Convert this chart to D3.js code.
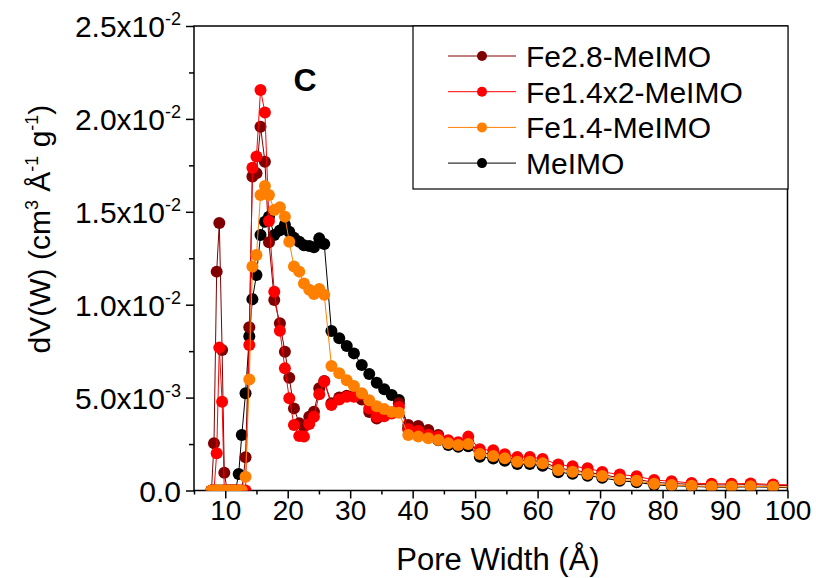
<!DOCTYPE html>
<html>
<head>
<meta charset="utf-8">
<script src="https://cdn.jsdelivr.net/npm/d3@7"></script>
<style>
body { margin: 0; background: #fff; }
text { font-family: "Liberation Sans", Arial, sans-serif; fill: #000; }
</style>
</head>
<body>
<svg id="chart" width="816" height="578"></svg>
<script>
// pore width grid (Å), shared by all four samples
const poreWidth = [7.8, 8.2, 8.63, 9.05, 9.5, 9.85, 10.3, 10.75, 11.2, 11.65,
  12.15, 12.65, 13.25, 13.85, 14.35, 15.0, 15.65, 16.35, 17.0, 17.85,
  18.75, 19.55, 20.25, 21.0, 21.85, 22.6, 23.45, 24.2, 25.05, 25.85,
  27.0, 28.25, 29.45, 30.6, 31.85, 33.05, 34.25, 35.45, 36.65, 37.8,
  39.3, 40.9, 42.5, 44.1, 45.7, 47.3, 48.9, 50.75, 52.9, 54.75,
  56.75, 58.75, 60.8, 63.3, 65.6, 68.0, 70.35, 73.15, 75.85, 78.65,
  81.45, 84.65, 87.85, 91.05, 94.1, 97.7, 101.0];

// dV(W), in units of 1e-3 cm3 Å-1 g-1
const fe28 = [0, 2.54, 11.78, 14.4, 7.56, 0.96, 0, 0, 0, 0,
  0, 0, 1.79, 8.78, 16.9, 17.07, 19.58, 17.7, 13.36, 10.25,
  9.0, 7.47, 6.07, 4.42, 3.62, 3.43, 3.97, 4.24, 5.5, 5.9,
  4.7, 5.0, 5.1, 5.1, 4.9, 4.23, 3.87, 4.1, 4.2, 4.7,
  3.53, 3.47, 3.26, 2.99, 2.62, 2.5, 2.6, 2.05, 1.95, 1.82,
  1.63, 1.63, 1.55, 1.2, 1.1, 0.98, 0.86, 0.68, 0.6, 0.44,
  0.38, 0.33, 0.3, 0.3, 0.32, 0.28, 0.26];

const fe14x2 = [0, 0, 2.0, 7.69, 4.78, 0, 0, 0, 0, 0,
  0, 0, 0, 7.83, 17.37, 17.97, 21.56, 20.35, 14.5, 10.7,
  8.6, 6.58, 4.96, 3.53, 2.93, 2.9, 3.58, 3.97, 5.18, 5.86,
  4.6, 4.9, 5.04, 5.04, 5.2, 4.42, 3.97, 4.0, 4.15, 4.5,
  3.3, 3.2, 3.0, 2.9, 2.7, 2.6, 2.9, 2.22, 2.16, 1.95,
  1.8, 1.8, 1.7, 1.4, 1.3, 1.2, 1.0, 0.86, 0.77, 0.56,
  0.5, 0.4, 0.36, 0.36, 0.38, 0.32, 0.3];

const fe14 = [0, 0, 0, 0, 0, 0, 0, 0, 0, 0,
  0, 0, 0.74, 5.98, 12.05, 12.67, 15.9, 16.39, 15.9, 15.1,
  15.24, 14.74, 13.39, 12.05, 11.78, 11.14, 10.8, 10.58, 10.85, 10.53,
  6.7, 6.31, 5.94, 5.63, 5.24, 4.86, 4.54, 4.38, 4.22, 4.18,
  2.99, 2.9, 2.81, 2.72, 2.54, 2.45, 2.5, 1.96, 1.86, 1.73,
  1.55, 1.55, 1.46, 1.1, 1.01, 0.89, 0.78, 0.6, 0.52, 0.36,
  0.3, 0.25, 0.21, 0.21, 0.23, 0.2, 0.18];

const meimo = [0, 0, 0, 0, 0, 0, 0, 0, 0, 0,
  0.89, 2.99, 5.23, 8.3, 10.3, 11.6, 13.75, 14.47, 14.74, 13.75,
  14.0, 14.3, 13.93, 13.6, 13.39, 13.2, 13.16, 13.09, 13.57, 13.27,
  8.58, 8.19, 7.78, 7.38, 6.75, 6.27, 5.8, 5.45, 5.14, 4.87,
  3.35, 3.1, 2.9, 2.7, 2.45, 2.35, 2.38, 1.82, 1.72, 1.6,
  1.42, 1.42, 1.33, 0.98, 0.9, 0.8, 0.68, 0.52, 0.45, 0.3,
  0.26, 0.22, 0.18, 0.18, 0.2, 0.17, 0.15];

const seriesNames = ["Fe2.8-MeIMO", "Fe1.4x2-MeIMO", "Fe1.4-MeIMO", "MeIMO"];
const seriesColors = ["#800000", "#ff0000", "#ff8000", "#000000"];

const xTicks = [10, 20, 30, 40, 50, 60, 70, 80, 90, 100];
const yTicks = [0, 5, 10, 15, 20, 25];
const yTickMain = ["0.0", "5.0x10", "1.0x10", "1.5x10", "2.0x10", "2.5x10"];
const yTickExp = ["", "-3", "-2", "-2", "-2", "-2"];

const svg = d3.select("#chart");
const x = d3.scaleLinear().domain([5, 100]).range([194, 787.5]);
const y = d3.scaleLinear().domain([0, 25]).range([490.5, 26]);

svg.append("defs").append("clipPath").attr("id", "plotClip")
  .append("rect")
  .attr("x", x(5)).attr("y", y(25))
  .attr("width", x(100) - x(5)).attr("height", y(0) - y(25));

// x axis: minor ticks then major ticks with labels
svg.append("g").attr("transform", "translate(0," + y(0) + ")")
  .call(d3.axisBottom(x).tickValues(d3.range(5, 100, 10)).tickSize(4).tickFormat(""))
  .call(g => g.select(".domain").remove())
  .selectAll("line").attr("stroke-width", 1.5);

const xAxis = svg.append("g").attr("transform", "translate(0," + y(0) + ")")
  .call(d3.axisBottom(x).tickValues(xTicks).tickSize(8).tickPadding(2).tickFormat(d3.format("d")))
  .call(g => g.select(".domain").remove());
xAxis.selectAll("line").attr("stroke-width", 1.5);
xAxis.selectAll("text").attr("font-size", 28).attr("font-family", "Liberation Sans, Arial, sans-serif");

// y axis
svg.append("g").attr("transform", "translate(" + x(5) + ",0)")
  .call(d3.axisLeft(y).tickValues(d3.range(2.5, 25, 5)).tickSize(5).tickFormat(""))
  .call(g => g.select(".domain").remove())
  .selectAll("line").attr("stroke-width", 1.5);

svg.append("g").attr("transform", "translate(" + x(5) + ",0)")
  .call(d3.axisLeft(y).tickValues(yTicks).tickSize(8).tickFormat(""))
  .call(g => g.select(".domain").remove())
  .selectAll("line").attr("stroke-width", 1.5);

const yLab = svg.append("g").selectAll("text").data(yTicks).join("text")
  .attr("x", 181)
  .attr("y", d => y(d) + 11)
  .attr("text-anchor", "end")
  .attr("font-size", 30);
yLab.append("tspan").text((d, i) => yTickMain[i]);
yLab.append("tspan").attr("font-size", 18).attr("dy", -12).text((d, i) => yTickExp[i]);

// frame
svg.append("rect")
  .attr("x", x(5)).attr("y", y(25))
  .attr("width", x(100) - x(5)).attr("height", y(0) - y(25))
  .attr("fill", "none").attr("stroke", "#000").attr("stroke-width", 1.5);

// data
const allSeries = [fe28, fe14x2, fe14, meimo];
const drawOrder = [3, 0, 1, 2];
const line = d3.line().x(d => x(d[0])).y(d => y(d[1]));
const plot = svg.append("g").attr("clip-path", "url(#plotClip)");

drawOrder.forEach(function(k) {
  const pts = poreWidth.map((w, i) => [w, allSeries[k][i]]);
  const g = plot.append("g");
  g.append("path").datum(pts)
    .attr("d", line)
    .attr("fill", "none")
    .attr("stroke", seriesColors[k])
    .attr("stroke-width", 1);
  g.selectAll("circle").data(pts).join("circle")
    .attr("cx", d => x(d[0]))
    .attr("cy", d => y(d[1]))
    .attr("r", 6)
    .attr("fill", seriesColors[k]);
});

// legend
svg.append("rect")
  .attr("x", 413).attr("y", 26).attr("width", 375).attr("height", 163)
  .attr("fill", "#fff").attr("stroke", "#000").attr("stroke-width", 1.2);

const leg = svg.append("g").selectAll("g").data(seriesNames).join("g")
  .attr("transform", (d, i) => "translate(0," + (56 + i * 35.7) + ")");
leg.append("line").attr("x1", 448).attr("x2", 516)
  .attr("stroke", (d, i) => seriesColors[i]).attr("stroke-width", 1);
leg.append("circle").attr("cx", 482).attr("r", 5).attr("fill", (d, i) => seriesColors[i]);
leg.append("text").attr("x", 526).attr("y", 11).attr("font-size", 30).text(d => d);

// panel letter
svg.append("text").attr("x", 305).attr("y", 91).attr("text-anchor", "middle")
  .attr("font-size", 32).attr("font-weight", "bold").text("C");

// axis titles
svg.append("text").attr("x", 498).attr("y", 570).attr("text-anchor", "middle")
  .attr("font-size", 31).text("Pore Width (Å)");

const yt = svg.append("text")
  .attr("transform", "translate(50,229) rotate(-90)")
  .attr("text-anchor", "middle")
  .attr("font-size", 30);
yt.append("tspan").text("dV(W) (cm");
yt.append("tspan").attr("font-size", 18).attr("dy", -12).text("3");
yt.append("tspan").attr("dy", 12).text(" Å");
yt.append("tspan").attr("font-size", 18).attr("dy", -12).text("-1");
yt.append("tspan").attr("dy", 12).text(" g");
yt.append("tspan").attr("font-size", 18).attr("dy", -12).text("-1");
yt.append("tspan").attr("dy", 12).text(")");
</script>
</body>
</html>
